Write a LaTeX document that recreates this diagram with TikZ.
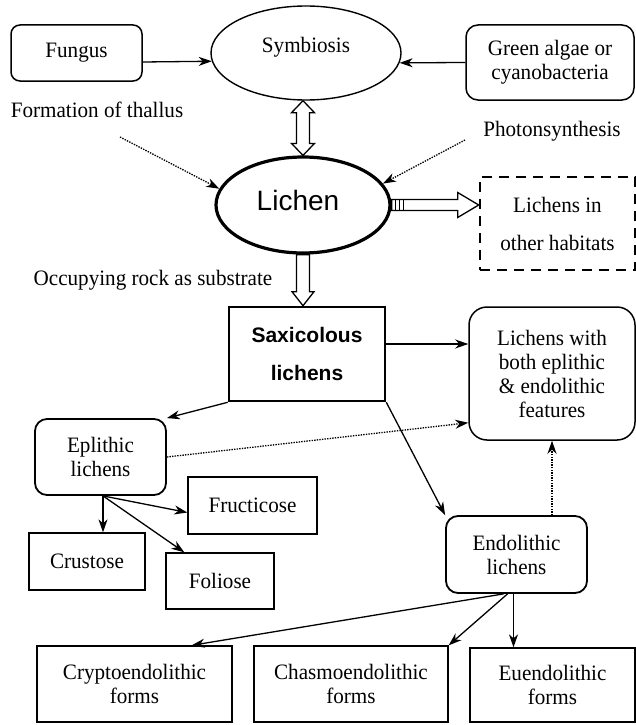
\documentclass[tikz,border=0pt]{standalone}
\usepackage{fontspec}
\setmainfont[FakeStretch=0.96]{Liberation Serif}
\setsansfont{Liberation Sans}
\usetikzlibrary{arrows.meta,shapes.geometric,calc}
\begin{document}
\begin{tikzpicture}[x=1pt,y=-1pt,
  every node/.style={font=\fontsize{22}{24}\selectfont, inner sep=0pt, align=center},
  sz/.style 2 args={minimum width=#1pt, minimum height=#2pt},
  plainbox/.style={draw, line width=1.3pt, rectangle},
  rbox/.style={draw, line width=1.5pt, rectangle, rounded corners=#1},
  arr/.style={line width=1.3pt, -{Stealth[length=13pt,width=9pt,inset=4pt]}},
  dotarr/.style={line width=1.3pt, dash pattern=on 1.4pt off 1.2pt, -{Stealth[length=13pt,width=9pt,inset=4pt]}},
  hollow/.style={draw, line width=1.3pt, fill=white, line join=miter},
  bigsp/.style={font=\fontsize{22}{38}\selectfont}
]
\useasboundingbox (0,0) rectangle (636,725);

% top row
\node[rbox=9pt, sz={131}{56}] (fungus) at (76.5,53) {Fungus};
\node[draw, ellipse, line width=1.4pt, sz={190}{94}, label={[yshift=6pt]center:Symbiosis}] (sym) at (306,53) {};
\node[rbox=12pt, sz={168}{75}] (algae) at (550,62.5) {Green algae or\\cyanobacteria};

\draw[arr] ($(fungus.east)+(0,9)$) -- (sym.185);
\draw[arr] (algae.west) -- (sym.354);

% side labels
\node (formation) at (97,110) {Formation of thallus};
\node (photo) at (552,131) {Photonsynthesis};
\coordinate (ftail) at (120,137);
\coordinate (ptail) at (465,140);

% lichen
\node[draw, ellipse, line width=3.2pt, sz={174}{96},
  label={[xshift=-5pt,yshift=5pt]center:{\fontsize{28}{30}\sffamily Lichen}}] (lichen) at (303,205) {};

\draw[dotarr] (ftail) -- (lichen.169);
\draw[dotarr] (ptail) -- (lichen.15);

% hollow double arrow symbiosis <-> lichen
\coordinate (da1) at (sym.south -| lichen.north);
\coordinate (da2) at (lichen.north);
\draw[hollow] (da1) -- ++(11.5,12) -- ++(-5,0) -- ($(da2)+(6.5,-12)$) -- ++(5,0) -- (da2)
  -- ++(-11.5,-12) -- ++(5,0) -- ($(da1)+(-6.5,12)$) -- ++(-5,0) -- cycle;

% other habitats
\node[draw, line width=2.6pt, dash pattern=on 10pt off 7pt, sz={155}{93}, bigsp] (other) at (557.5,223.5) {Lichens in\\other habitats};

\coordinate (dc1) at (lichen.east);
\coordinate (dc2) at (lichen.east -| other.west);
\draw[hollow] ($(dc1)+(0,-5.5)$) -- ($(dc2)+(-21,-5.5)$) -- ++(0,-7) -- (dc2)
  -- ($(dc2)+(-21,12.5)$) -- ++(0,-7) -- ($(dc1)+(0,5.5)$) -- cycle;
\draw[line width=1pt] ($(dc1)+(4,-5.5)$) -- ++(0,11);
\draw[line width=1pt] ($(dc1)+(8,-5.5)$) -- ++(0,11);
\draw[line width=1pt] ($(dc1)+(12,-5.5)$) -- ++(0,11);

% occupying
\node (occ) at (153,280) {Occupying rock as substrate};

% saxicolous
\node[draw, line width=2.6pt, sz={156}{94}, font=\fontsize{21}{38}\sffamily\bfseries] (sax) at (307,354) {Saxicolous\\lichens};

\coordinate (db1) at (lichen.south);
\coordinate (db2) at (lichen.south |- sax.north);
\draw[hollow] ($(db1)+(-6.5,0)$) -- ++(13,0) -- ($(db2)+(6.5,-14)$) -- ++(4.5,0) -- (db2)
  -- ++(-11,-14) -- ++(4.5,0) -- cycle;

% both features
\node[rbox=18pt, sz={166}{133}] (both) at (552,373.5) {Lichens with\\both eplithic\\\& endolithic\\features};

% eplithic and subtypes
\node[rbox=12pt, line width=1.8pt, sz={131}{76}] (epi) at (100.5,457) {Eplithic\\lichens};
\node[plainbox, sz={129}{57}] (fruct) at (252.5,505.5) {Fructicose};
\node[plainbox, sz={116}{57}] (crust) at (87,561.5) {Crustose};
\node[plainbox, sz={108}{56}] (foli) at (220,581) {Foliose};

% endolithic and subtypes
\node[rbox=12pt, line width=1.8pt, sz={141}{77}] (endo) at (516.5,554.5) {Endolithic\\lichens};
\node[plainbox, sz={195}{76}] (crypto) at (134.5,684) {Cryptoendolithic\\forms};
\node[plainbox, sz={194}{76}] (chasmo) at (351,684) {Chasmoendolithic\\forms};
\node[plainbox, sz={165}{74}] (euendo) at (552.5,685) {Euendolithic\\forms};

% connectors
\coordinate (sbs) at ($(sax.east)+(0,-10)$);
\draw[arr] (sbs) -- (sbs -| both.west);
\draw[arr] (sax.south west) -- (epi.north east);
\draw[dotarr] (epi.east) -- ($(both.south west)+(0,-18)$);
\draw[arr] (sax.south east) -- (endo.north west);
\draw[dotarr] (endo.north -| both.south) -- (both.south);

\coordinate (es) at ($(epi.south)+(2.5,0)$);
\draw[arr] (es) -- (es |- crust.north);
\draw[arr] (es) -- ($(fruct.west)+(0,7)$);
\draw[arr] (es) -- ($(foli.north west)+(19,0)$);

\coordinate (en1) at ($(endo.south)+(-13,0)$);
\coordinate (en2) at ($(endo.south)+(-9,0)$);
\coordinate (en3) at ($(endo.south)+(-3,0)$);
\draw[arr] (en1) -- ($(crypto.north east)+(-41,0)$);
\draw[arr] (en2) -- (chasmo.north east);
\draw[arr] (en3) -- (en3 |- euendo.north);
\end{tikzpicture}
\end{document}
